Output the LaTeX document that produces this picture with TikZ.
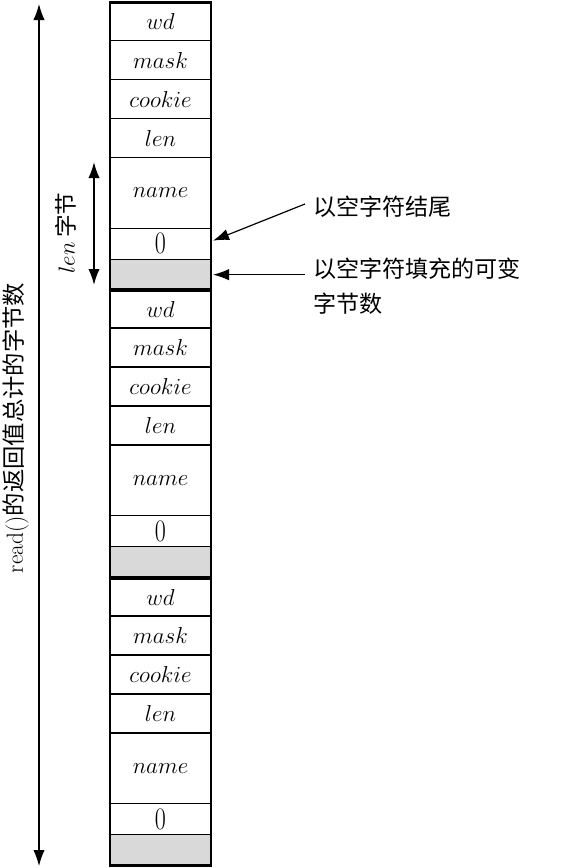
\documentclass[tikz,border=0pt]{standalone}
\usepackage{fontspec}
\newfontfamily\cjk{Noto Sans CJK SC}
\usetikzlibrary{arrows.meta,calc}
\begin{document}
\begin{tikzpicture}[x=0.75pt,y=-0.75pt,
  cell/.style={draw=black,line width=0.8pt,outer sep=0pt,minimum width=75.75pt,inner sep=0pt,anchor=north,font=\fontsize{18}{20}\selectfont},
  padcell/.style={cell,fill=black!15},
  frame/.style={draw=black,line width=2.2pt},
  sepline/.style={draw=black,line width=3pt},
  tip/.style={-{Latex[length=12pt,width=8.5pt]}},
  dtip/.style={{Latex[length=12pt,width=8.5pt]}-{Latex[length=12pt,width=8.5pt]}},
  cjklabel/.style={font=\cjk\fontsize{17.3}{20}\selectfont,inner sep=0pt}]
\useasboundingbox (0,0) rectangle (567,868);
\foreach \b/\t in {1/2.5,2/290,3/578}{
  \node[cell,minimum height=28.5pt] (b\b wd) at (160.5,\t) {$wd$};
  \node[cell,minimum height=29.25pt] (b\b mask) at (b\b wd.south) {$mask$};
  \node[cell,minimum height=29.25pt] (b\b cookie) at (b\b mask.south) {$cookie$};
  \node[cell,minimum height=29.25pt] (b\b len) at (b\b cookie.south) {$len$};
  \node[cell,minimum height=53pt] (b\b name) at (b\b len.south) {$name$};
  \node[cell,minimum height=23.25pt] (b\b zero) at (b\b name.south) {\scalebox{1}[1.3]{0}};
  \node[padcell,minimum height=23.25pt] (b\b pad) at (b\b zero.south) {};
  \draw[frame] (b\b wd.north west) rectangle (b\b pad.south east);
}
\draw[sepline] (b2wd.north west) -- (b2wd.north east);
\draw[sepline] (b3wd.north west) -- (b3wd.north east);
% total arrow
\coordinate (ttop) at (39,4);
\coordinate (tbot) at (39,866);
\draw[dtip,line width=0.9pt] (ttop) -- (tbot);
\node[rotate=90,inner sep=0pt,font=\fontsize{17.5}{20}\selectfont] (tlab) at (16,428)
  {read()\cjk 的返回值总计的字节数};
% len arrow
\coordinate (ltop) at (94,162);
\coordinate (lbot) at (94,285);
\draw[dtip,line width=1.3pt] (ltop) -- (lbot);
\node[rotate=90,inner sep=0pt] (llab) at (66,233)
  {{\fontsize{18}{20}\selectfont$len$} {\cjk\fontsize{17}{20}\selectfont 字节}};
% right labels
\node[cjklabel,anchor=west] (nullend) at (313,207) {以空字符结尾};
\node[cjklabel,anchor=north west,align=left] (nullpad) at (313,258)
  {以空字符填充的可变\\[6pt]字节数};
\coordinate (a1s) at (305,204);
\coordinate (a2s) at ($(b1pad.east)+(94,0)$);
\draw[tip,line width=0.9pt] (a1s) -- ($(b1zero.east)+(2,-3)$);
\draw[tip,line width=0.9pt] (a2s) -- ($(b1pad.east)+(2,0)$);
\end{tikzpicture}
\end{document}
